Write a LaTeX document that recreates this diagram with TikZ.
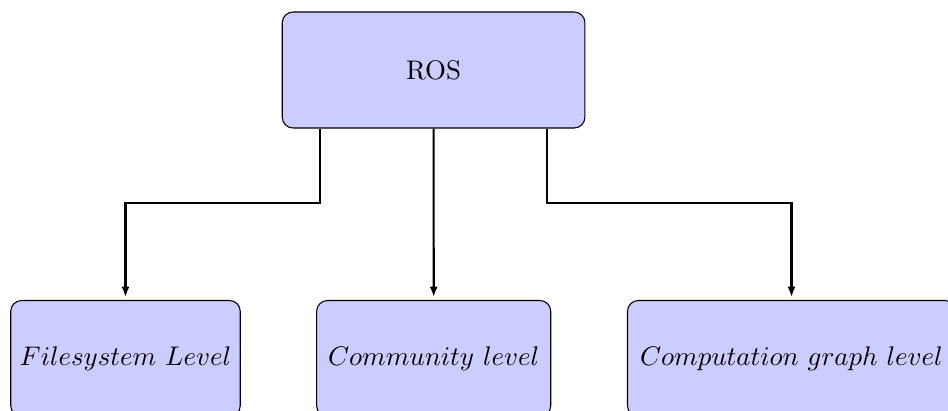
\documentclass[tikz,border=0pt]{standalone}
\usetikzlibrary{arrows.meta}
\begin{document}
\begin{tikzpicture}[x=0.3717pt,y=-0.3717pt,
  box/.style={draw=black, fill=blue!20, rounded corners=4pt, line width=0.4pt, align=center},
  conn/.style={thick, -{Latex[length=4pt,width=3pt]}, shorten >=1pt}]
\useasboundingbox (0,0) rectangle (948,410);
\clip (0,0) rectangle (948,410);
\node[box, minimum width=112.5pt, minimum height=43.1pt] (ros) at (433.6,70) {ROS};
\node[box, minimum width=85.1pt, minimum height=43.1pt] (fs) at (125.5,358.5) {$Filesystem\ Level$};
\node[box, minimum width=87.0pt, minimum height=43.1pt] (com) at (433.7,358.5) {$Community\ level$};
\node[box, minimum width=121.9pt, minimum height=43.1pt] (cg) at (791.5,358.5) {$Computation\ graph\ level$};
\coordinate (b1) at (320,203);
\coordinate (b3) at (546.7,203);
\draw[conn] (b1 |- ros.south) -- (b1) -| (fs.north);
\draw[conn] (ros.south) -- (com.north);
\draw[conn] (b3 |- ros.south) -- (b3) -| (cg.north);
\end{tikzpicture}
\end{document}
